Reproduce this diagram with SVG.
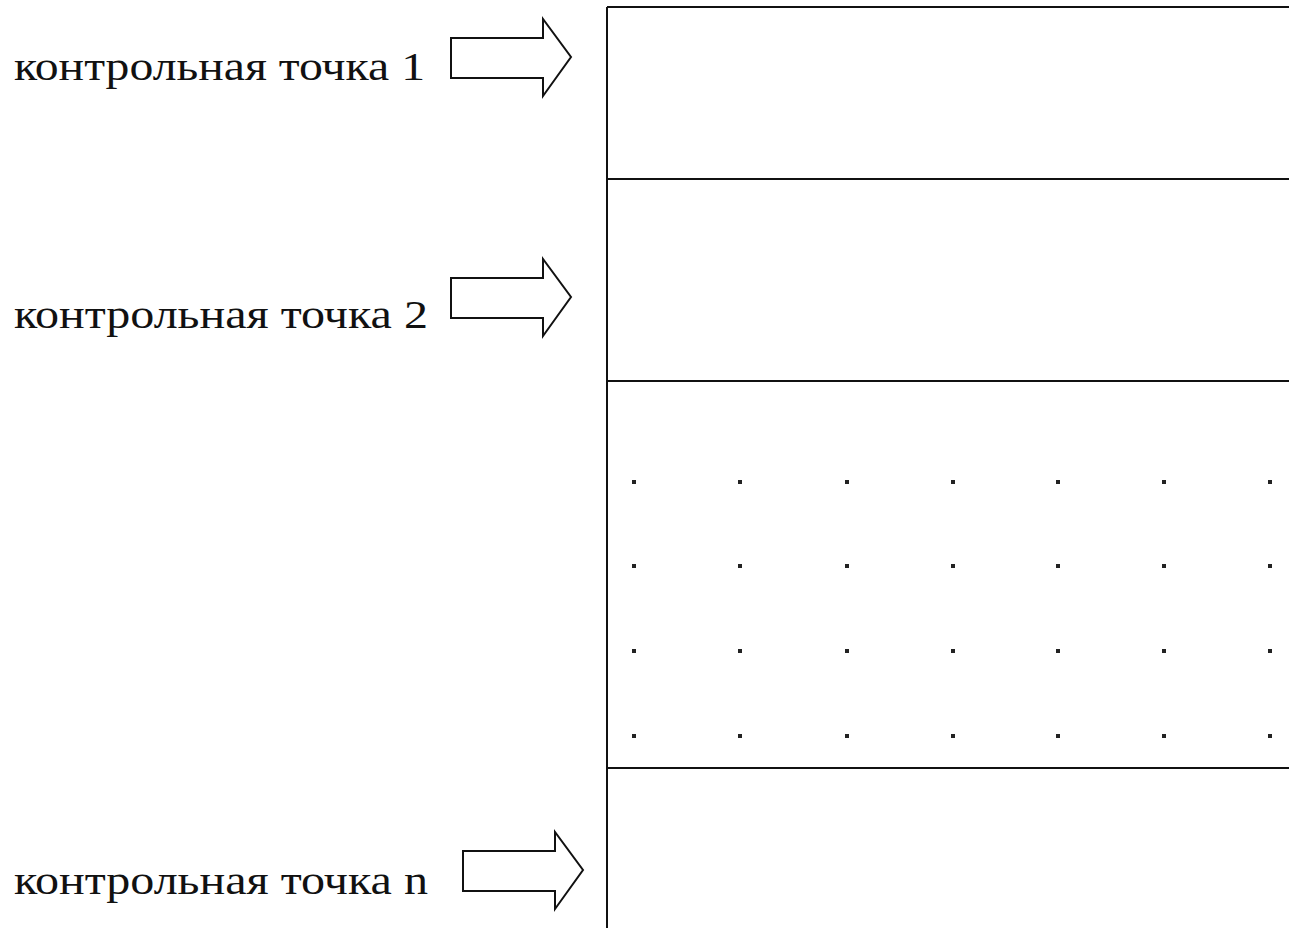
<svg xmlns="http://www.w3.org/2000/svg" width="1289" height="928" viewBox="0 0 1289 928">
  <defs>
    <style>
      .lbl { font-family: "Liberation Serif", serif; font-size: 40px; fill: #111; }
      .ln { stroke: #111; stroke-width: 2; fill: none; }
      .arr { stroke: #111; stroke-width: 2; fill: #fff; stroke-linejoin: miter; }
      .dot { fill: #222; }
    </style>
    <polygon id="bigArrow" points="0,0 92,0 92,-19 120,19 92,58 92,40 0,40" class="arr"/>
    <g id="dotRow">
      <rect x="-2" y="-2" width="4" height="4" class="dot" transform="translate(634,0)"/>
      <rect x="-2" y="-2" width="4" height="4" class="dot" transform="translate(740,0)"/>
      <rect x="-2" y="-2" width="4" height="4" class="dot" transform="translate(847,0)"/>
      <rect x="-2" y="-2" width="4" height="4" class="dot" transform="translate(953,0)"/>
      <rect x="-2" y="-2" width="4" height="4" class="dot" transform="translate(1058,0)"/>
      <rect x="-2" y="-2" width="4" height="4" class="dot" transform="translate(1164,0)"/>
      <rect x="-2" y="-2" width="4" height="4" class="dot" transform="translate(1270,0)"/>
    </g>
  </defs>
  <rect width="1289" height="928" fill="#fff"/>

  <g id="table">
    <line class="ln" x1="607" y1="7" x2="607" y2="928"/>
    <line class="ln" x1="607" y1="7" x2="1289" y2="7"/>
    <line class="ln" x1="607" y1="179" x2="1289" y2="179"/>
    <line class="ln" x1="607" y1="381" x2="1289" y2="381"/>
    <line class="ln" x1="607" y1="768" x2="1289" y2="768"/>
  </g>

  <g id="dots">
    <use href="#dotRow" transform="translate(0,482)"/>
    <use href="#dotRow" transform="translate(0,566)"/>
    <use href="#dotRow" transform="translate(0,651)"/>
    <use href="#dotRow" transform="translate(0,736)"/>
  </g>

  <g id="label1">
    <text class="lbl" x="14" y="80" textLength="411" lengthAdjust="spacingAndGlyphs">контрольная точка 1</text>
  </g>
  <g id="label2">
    <text class="lbl" x="14" y="328" textLength="414" lengthAdjust="spacingAndGlyphs">контрольная точка 2</text>
  </g>
  <g id="labeln">
    <text class="lbl" x="14" y="894" textLength="414" lengthAdjust="spacingAndGlyphs">контрольная точка n</text>
  </g>

  <g id="connectors">
    <use href="#bigArrow" transform="translate(451,38)"/>
    <use href="#bigArrow" transform="translate(451,278)"/>
    <use href="#bigArrow" transform="translate(463,851)"/>
  </g>
</svg>
